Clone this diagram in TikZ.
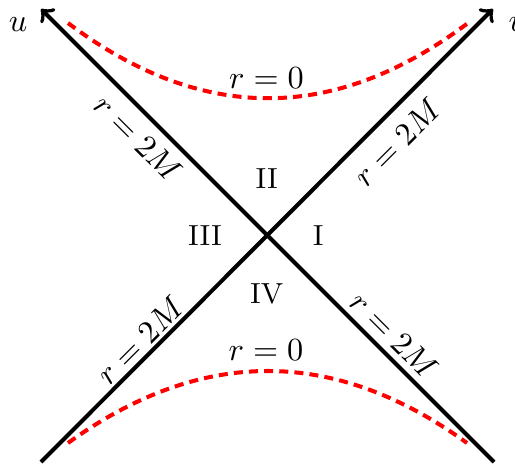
\documentclass[tikz,border=0pt]{standalone}
\begin{document}
\begin{tikzpicture}[x=0.31pt,y=-0.31pt,
  axis/.style={line width=1.25pt},
  horizon/.style={line width=1.25pt, red, dash pattern=on 2.8pt off 1.9pt},
  lbl/.style={inner sep=0pt},
  region/.style={inner sep=0pt, font=\fontsize{9}{11}\selectfont}]
\useasboundingbox (0,0) rectangle (515,464);
\coordinate (bl) at (41,462);
\coordinate (br) at (494,462);
\coordinate (tl) at (41,9);
\coordinate (tr) at (493,9);
\draw[axis,->] (br) -- (tl);
\draw[axis,->] (bl) -- (tr);
\node[lbl] (u) at (18,25) {$u$};
\node[lbl] (v) at (517,25) {$v$};
% r = 0 curves
\coordinate (ta) at (68,23);
\coordinate (tb) at (468,23);
\draw[horizon] (ta) .. controls (201.3,123.3) and (334.7,123.3) .. (tb);
\coordinate (ba) at (68,443);
\coordinate (bb) at (467,443);
\draw[horizon] (ba) .. controls (201.3,347) and (334.3,347) .. (bb);
\node[lbl] (rzt) at (266.5,78) {$r=0$};
\node[lbl] (rzb) at (266,350) {$r=0$};
% horizons labels
\node[lbl, rotate=-45] (htl) at (138,138) {$r=2M$};
\node[lbl, rotate=45] (htr) at (397,142) {$r=2M$};
\node[lbl, rotate=45] (hbl) at (140,340) {$r=2M$};
\node[lbl, rotate=-45] (hbr) at (394,335) {$r=2M$};
% regions
\node[region] (rI) at (318.3,235.5) {I};
\node[region] (rII) at (266.7,178.3) {II};
\node[region] (rIII) at (205,235.5) {III};
\node[region] (rIV) at (266.7,293.5) {IV};
\end{tikzpicture}
\end{document}
